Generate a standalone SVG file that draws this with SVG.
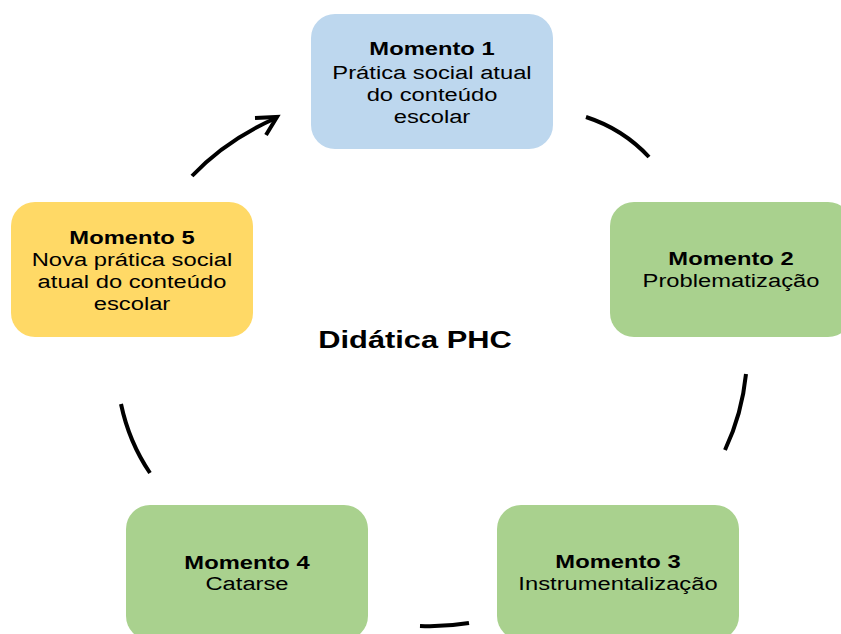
<svg xmlns="http://www.w3.org/2000/svg" width="841" height="634" viewBox="0 0 841 634">
<style>
.box{stroke:none}
.blue{fill:#BDD7EE}
.green{fill:#A9D18E}
.yellow{fill:#FFD966}
text{font-family:"Liberation Sans",Arial,sans-serif;font-size:18px;fill:#000;text-anchor:middle}
.b{font-weight:bold}
.title{font-size:23px;font-weight:bold}
.arc{fill:none;stroke:#000;stroke-width:4}
</style>
<rect width="841" height="634" fill="#fff"/>
<g id="connectors">
<path class="arc" d="M192,176 Q226,140 276,118"/>
<polyline class="arc" points="255,118 277,117 266,135" stroke-linejoin="miter"/>
<path class="arc" d="M586,117 Q623,129 649,157"/>
<path class="arc" d="M746,374 Q742,414 725,450"/>
<path class="arc" d="M121,404 Q129,442 150,473"/>
<path class="arc" d="M420,626 Q445,627 469,623"/>
</g>
<g id="momento1">
<rect class="box blue" x="311" y="14" width="242" height="135" rx="24"/>
<g transform="translate(432,0) scale(1.32,1)">
<text class="b" x="0" y="55">Momento 1</text>
<text x="0" y="79">Prática social atual</text>
<text x="0" y="101">do conteúdo</text>
<text x="0" y="123">escolar</text>
</g>
</g>
<g id="momento2">
<rect class="box green" x="610" y="202" width="242" height="135" rx="24"/>
<g transform="translate(731,0) scale(1.32,1)">
<text class="b" x="0" y="265">Momento 2</text>
<text x="0" y="287">Problematização</text>
</g>
</g>
<g id="momento3">
<rect class="box green" x="497" y="505" width="242" height="135" rx="24"/>
<g transform="translate(618,0) scale(1.32,1)">
<text class="b" x="0" y="568">Momento 3</text>
<text x="0" y="590">Instrumentalização</text>
</g>
</g>
<g id="momento4">
<rect class="box green" x="126" y="505" width="242" height="135" rx="24"/>
<g transform="translate(247,0) scale(1.32,1)">
<text class="b" x="0" y="569">Momento 4</text>
<text x="0" y="590">Catarse</text>
</g>
</g>
<g id="momento5">
<rect class="box yellow" x="11" y="202" width="242" height="135" rx="24"/>
<g transform="translate(132,0) scale(1.32,1)">
<text class="b" x="0" y="244">Momento 5</text>
<text x="0" y="266">Nova prática social</text>
<text x="0" y="288">atual do conteúdo</text>
<text x="0" y="310">escolar</text>
</g>
</g>
<g id="title">
<g transform="translate(415,0) scale(1.34,1)">
<text class="title" x="0" y="348">Didática PHC</text>
</g>
</g>
</svg>
